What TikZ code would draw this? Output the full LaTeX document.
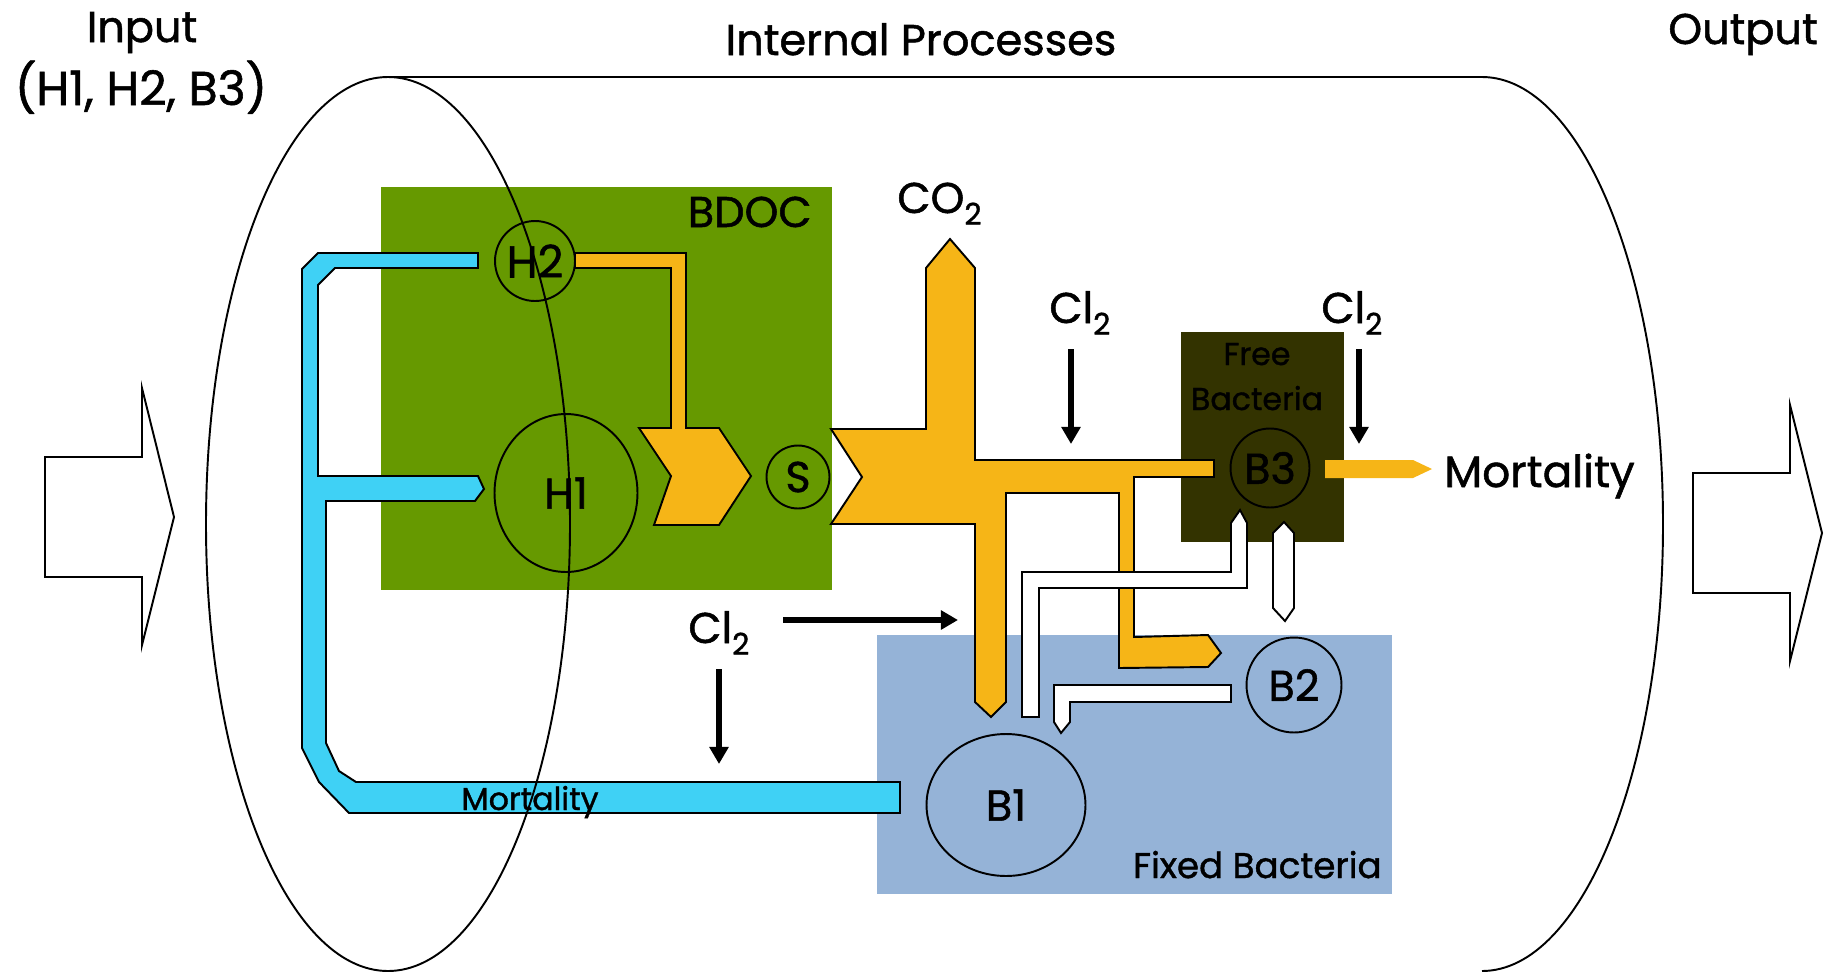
\documentclass[tikz,border=0pt]{standalone}
\usepackage{fontspec}
\setmainfont{Poppins}[RawFeature={embolden=1.2}]
\usetikzlibrary{shapes.geometric,arrows.meta}
\definecolor{bdocgreen}{RGB}{102,153,0}
\definecolor{fixblue}{RGB}{149,179,215}
\definecolor{freedark}{RGB}{51,51,0}
\definecolor{flowor}{RGB}{246,181,23}
\definecolor{flowcy}{RGB}{63,209,245}
\newcommand\chsub[1]{\raisebox{-0.27em}{\fontsize{17}{17}\selectfont #1}}
\begin{document}
\begin{tikzpicture}[x=0.02cm,y=-0.02cm,
  outl/.style={draw=black, line width=1.1pt, line join=miter},
  big/.style={font=\fontsize{24.5}{29}\selectfont, inner sep=0pt},
  midf/.style={font=\fontsize{20.3}{24}\selectfont, inner sep=0pt},
  smallf/.style={font=\fontsize{18}{21}\selectfont, inner sep=0pt},
  ring/.style={circle, draw=black, line width=1.1pt, inner sep=0pt, big},
  oval/.style={ellipse, draw=black, line width=1.1pt, inner sep=0pt, big},
  clarrow/.style={line width=3.2pt, -{Triangle[length=9.7pt,width=10.5pt]}},
]
\useasboundingbox (0,0) rectangle (1833,971);
% background boxes
\fill[bdocgreen] (381,187) rectangle (832,590);
\fill[fixblue] (877,635) rectangle (1392,894);
\fill[freedark] (1181,332) rectangle (1344,542);
% input / output arrows
\draw[outl, fill=white] (45,457) -- (142,457) -- (142,388) -- (174,517) -- (142,645) -- (142,577) -- (45,577) -- cycle;
\draw[outl, fill=white] (1693,473) -- (1790,473) -- (1790,405) -- (1822,533) -- (1790,661) -- (1790,593) -- (1693,593) -- cycle;
% cylinder top and right end
\draw[line width=1.1pt] (388,77) -- (1482,77) arc[start angle=-90, end angle=90, x radius=181, y radius=447];
% cyan mortality path
\draw[outl, fill=flowcy] (478,253) -- (318,253) -- (302,269) -- (302,748) -- (319,782) -- (349,813) -- (900,813) -- (900,782) -- (356,782) -- (339,771) -- (326,743) -- (326,501) -- (475,501) -- (484,489) -- (478,476) -- (318,476) -- (318,285) -- (335,268) -- (478,268) -- cycle;
% orange H chevron
\draw[outl, fill=flowor] (575,253) -- (686,253) -- (686,428) -- (719,428) -- (751,476) -- (719,525) -- (654,525) -- (671,476) -- (639,428) -- (671,428) -- (671,268) -- (575,268) -- cycle;
% orange cross
\draw[outl, fill=flowor] (950,239) -- (975,268) -- (975,460) -- (1214,460) -- (1214,477) -- (1134,477) -- (1134,637) -- (1208,635) -- (1221,653) -- (1208,667) -- (1119,668) -- (1119,493) -- (1006,493) -- (1006,702) -- (991,717) -- (975,702) -- (975,524) -- (831,524) -- (862,477) -- (831,429) -- (926,429) -- (926,268) -- cycle;
% orange mortality arrow
\fill[flowor] (1325,460) -- (1413,460) -- (1432,469) -- (1413,478) -- (1325,478) -- cycle;
% white arrows
\draw[outl, fill=white] (1022,717) -- (1022,572) -- (1231,572) -- (1231,523) -- (1240,510) -- (1247,523) -- (1247,588) -- (1039,588) -- (1039,717) -- cycle;
\draw[outl, fill=white] (1273,533) -- (1284,522) -- (1294,533) -- (1294,608) -- (1285,621) -- (1273,608) -- cycle;
\draw[outl, fill=white] (1231,685) -- (1054,685) -- (1054,722) -- (1061,733) -- (1070,722) -- (1070,702) -- (1231,702) -- cycle;
% pools
\node[ring, minimum size=1.6cm, font=\fontsize{25.5}{30}\selectfont] (H2) at (535,261) {H2};
\node[oval, minimum width=2.86cm, minimum height=3.16cm] (H1) at (566,493) {H1};
\node[ring, minimum size=1.26cm] (S) at (798,477) {S};
\node[ring, minimum size=1.58cm] (B3) at (1270,468) {B3};
\node[ring, minimum size=1.9cm] (B2) at (1294,685) {B2};
\node[oval, minimum width=3.18cm, minimum height=2.84cm] (B1) at (1006,805) {B1};
% labels
\node[big, anchor=base] (inp) at (142,42) {Input};
\node[font=\fontsize{27}{32}\selectfont, inner sep=0pt, anchor=base] (inp2) at (141,105) {(H1, H2, B3)};
\node[big, anchor=base] (intp) at (921,55) {Internal Processes};
\node[big, anchor=base] (outp) at (1743,44) {Output};
\node[big, anchor=base east] (bdoc) at (812,227) {BDOC};
\node[big, anchor=base west] (co2) at (897,213) {CO\chsub{2}};
\node[big, anchor=base west] (clm) at (1049,323) {Cl\chsub{2}};
\node[big, anchor=base west] (clr) at (1321,323) {Cl\chsub{2}};
\node[big, anchor=base west] (cll) at (688,643) {Cl\chsub{2}};
\node[smallf, anchor=base] (free1) at (1257,365) {Free};
\node[smallf, anchor=base] (free2) at (1257,410) {Bacteria};
\node[midf, anchor=base east] (fixb) at (1382,878) {Fixed Bacteria};
\node[smallf, anchor=base] (mort1) at (530,810) {Mortality};
\node[font=\fontsize{25}{30}\selectfont, inner sep=0pt, anchor=base west] (mort2) at (1444,487) {Mortality};
% chlorine arrows
\coordinate (cla1) at (1071,349); \coordinate (cla2) at (1071,444);
\coordinate (clb1) at (1359,349); \coordinate (clb2) at (1359,444);
\coordinate (clc1) at (719,669); \coordinate (clc2) at (719,764);
\coordinate (cld1) at (783,620); \coordinate (cld2) at (958,620);
\draw[clarrow] (cla1) -- (cla2);
\draw[clarrow] (clb1) -- (clb2);
\draw[clarrow] (clc1) -- (clc2);
\draw[clarrow] (cld1) -- (cld2);
% cylinder front end
\draw[line width=1.1pt] (388,524) ellipse [x radius=182, y radius=447];
\end{tikzpicture}
\end{document}
